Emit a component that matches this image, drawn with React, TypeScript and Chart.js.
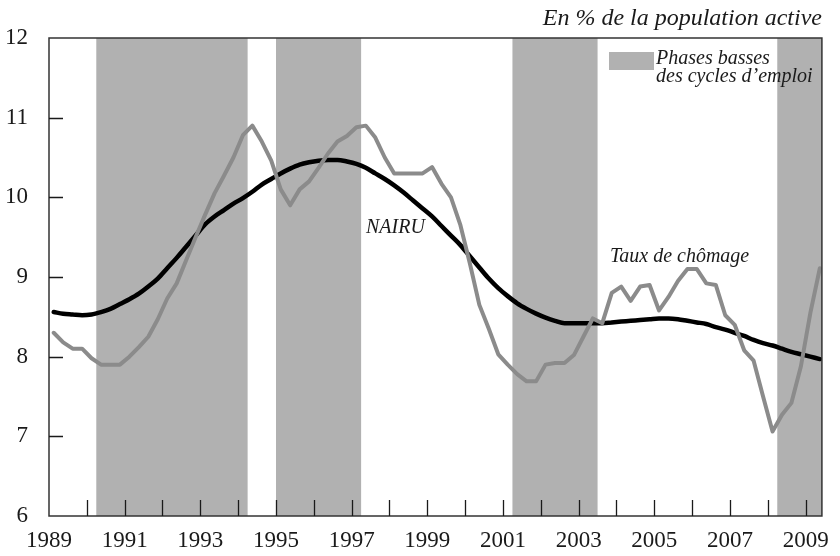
import React, { useEffect, useRef } from "react";
import { Chart, registerables } from "chart.js";

Chart.register(...registerables);

// Quarterly data, first point = 1989 Q1 (plotted at quarter mid-point)
const firstQuarterMid = 1989.125;

const unemployment = [
  8.3, 8.18, 8.1, 8.1,
  7.98, 7.9, 7.9, 7.9,
  8.0, 8.12, 8.25, 8.47,
  8.73, 8.92, 9.21, 9.5,
  9.78, 10.05, 10.27, 10.5,
  10.78, 10.9, 10.7, 10.46,
  10.1, 9.9, 10.1, 10.2,
  10.37, 10.55, 10.7, 10.77,
  10.88, 10.9, 10.75, 10.5,
  10.3, 10.3, 10.3, 10.3,
  10.38, 10.17, 10.0, 9.65,
  9.17, 8.65, 8.35, 8.03,
  7.9, 7.78, 7.69, 7.69,
  7.9, 7.92, 7.92, 8.02,
  8.25, 8.48, 8.42, 8.8,
  8.88, 8.7, 8.88, 8.9,
  8.58, 8.75, 8.95, 9.1,
  9.1, 8.92, 8.9, 8.52,
  8.4, 8.08, 7.95, 7.5,
  7.06, 7.27, 7.42, 7.88,
  8.55, 9.11,
];

const nairu = [
  8.56, 8.54, 8.53, 8.52,
  8.53, 8.56, 8.6, 8.66,
  8.72, 8.79, 8.88, 8.98,
  9.11, 9.24, 9.38, 9.52,
  9.66, 9.76, 9.84, 9.92,
  9.99, 10.07, 10.16, 10.23,
  10.3, 10.36, 10.41, 10.44,
  10.46, 10.47, 10.47, 10.45,
  10.42, 10.37, 10.3, 10.23,
  10.15, 10.06, 9.96, 9.86,
  9.76, 9.64, 9.52, 9.4,
  9.26, 9.12, 8.98, 8.86,
  8.76, 8.67, 8.6, 8.54,
  8.49, 8.45, 8.42, 8.42,
  8.42, 8.42, 8.42, 8.43,
  8.44, 8.45, 8.46, 8.47,
  8.48, 8.48, 8.47, 8.45,
  8.43, 8.41, 8.37, 8.34,
  8.3, 8.26, 8.21, 8.17,
  8.14, 8.1, 8.06, 8.03,
  8.0, 7.97,
];

// Low phases of employment cycles [start, end]
const lowPhaseStarts = [1990.25, 1995.0, 2001.25, 2008.25];
const lowPhaseEnds = [1994.25, 1997.25, 2003.5, 2009.43];

const xLabelYears = [1989, 1991, 1993, 1995, 1997, 1999, 2001, 2003, 2005, 2007, 2009];
const xMinorTicks = [
  1990, 1991, 1992, 1993, 1994, 1995, 1996, 1997, 1998, 1999,
  2000, 2001, 2002, 2003, 2004, 2005, 2006, 2007, 2008, 2009,
];
const yTickValues = [6, 7, 8, 9, 10, 11, 12];
const yInnerTicks = [7, 8, 9, 10, 11];

const X_MIN = 1989;
const X_MAX = 2009.43;

const SHADE = "#b1b1b1";
const UNEMP_COLOR = "#8b8b8b";
const INK = "#1a1a1a";
const SERIF = "'Liberation Serif', 'Times New Roman', serif";

const decorPlugin = {
  id: "decor",
  beforeDatasetsDraw(chart: any) {
    const { ctx, chartArea, scales } = chart;
    const xs = scales.x;
    ctx.save();
    ctx.fillStyle = SHADE;
    for (let i = 0; i < lowPhaseStarts.length; i++) {
      const x0 = xs.getPixelForValue(lowPhaseStarts[i]);
      const x1 = Math.min(xs.getPixelForValue(lowPhaseEnds[i]), chartArea.right);
      ctx.fillRect(x0, chartArea.top, x1 - x0, chartArea.bottom - chartArea.top);
    }
    ctx.restore();
  },
  afterDatasetsDraw(chart: any) {
    const { ctx, chartArea, scales } = chart;
    const xs = scales.x;
    const ys = scales.y;
    ctx.save();
    // frame
    ctx.strokeStyle = "#333333";
    ctx.lineWidth = 1.5;
    ctx.strokeRect(chartArea.left, chartArea.top, chartArea.right - chartArea.left, chartArea.bottom - chartArea.top);
    // inward ticks
    ctx.strokeStyle = INK;
    ctx.lineWidth = 1.3;
    ctx.beginPath();
    for (const yr of xMinorTicks) {
      const px = Math.round(xs.getPixelForValue(yr)) + 0.5;
      ctx.moveTo(px, chartArea.bottom);
      ctx.lineTo(px, chartArea.bottom - 16);
    }
    for (const v of yInnerTicks) {
      const py = Math.round(ys.getPixelForValue(v)) + 0.5;
      ctx.moveTo(chartArea.left, py);
      ctx.lineTo(chartArea.left + 14, py);
    }
    ctx.stroke();

    // annotations
    ctx.fillStyle = INK;
    ctx.textBaseline = "alphabetic";
    ctx.font = `italic 20px ${SERIF}`;
    ctx.textAlign = "left";
    ctx.fillText("NAIRU", 366, 233);
    ctx.fillText("Taux de chômage", 610, 262);

    // legend
    ctx.fillStyle = SHADE;
    ctx.fillRect(609, 52, 45, 18);
    ctx.fillStyle = INK;
    ctx.fillText("Phases basses", 656, 64);
    ctx.fillText("des cycles d’emploi", 656, 82);

    // unit title
    ctx.font = `italic 24px ${SERIF}`;
    ctx.textAlign = "right";
    ctx.fillText("En % de la population active", 822, 25);
    ctx.restore();
  },
};

export default function App() {
  const canvasRef = useRef<HTMLCanvasElement | null>(null);

  useEffect(() => {
    document.body.style.margin = "0";
    const canvas = canvasRef.current;
    if (!canvas) return;

    const unempPoints = unemployment.map((v, i) => ({ x: firstQuarterMid + i * 0.25, y: v }));
    const nairuPoints = nairu.map((v, i) => ({ x: firstQuarterMid + i * 0.25, y: v }));

    const chart = new Chart(canvas, {
      type: "line",
      data: {
        datasets: [
          {
            label: "Taux de chômage",
            data: unempPoints,
            borderColor: UNEMP_COLOR,
            borderWidth: 4,
            pointRadius: 0,
            tension: 0,
            borderJoinStyle: "round",
            borderCapStyle: "round",
          },
          {
            label: "NAIRU",
            data: nairuPoints,
            borderColor: "#000000",
            borderWidth: 4.5,
            pointRadius: 0,
            tension: 0.4,
            cubicInterpolationMode: "monotone",
            borderCapStyle: "round",
          },
        ],
      },
      options: {
        responsive: false,
        animation: false,
        layout: { padding: { top: 38, right: 17, left: 0, bottom: 0 } },
        plugins: {
          legend: { display: false },
          tooltip: { enabled: false },
          title: { display: false },
        },
        scales: {
          x: {
            type: "linear",
            min: X_MIN,
            max: X_MAX,
            grid: { display: false, drawTicks: false },
            border: { display: false },
            afterBuildTicks(scale: any) {
              scale.ticks = xLabelYears.map((v) => ({ value: v }));
            },
            afterFit(scale: any) {
              scale.height = 40;
            },
            ticks: {
              autoSkip: false,
              maxRotation: 0,
              padding: 11,
              color: INK,
              font: { family: SERIF, size: 23 },
              callback: (v: any) => String(v),
            },
          },
          y: {
            type: "linear",
            min: 6,
            max: 12,
            grid: { display: false, drawTicks: false },
            border: { display: false },
            afterBuildTicks(scale: any) {
              scale.ticks = yTickValues.map((v) => ({ value: v }));
            },
            afterFit(scale: any) {
              scale.width = 49;
            },
            ticks: {
              padding: 21,
              color: INK,
              font: { family: SERIF, size: 23 },
              callback: (v: any) => String(v),
            },
          },
        },
      },
      plugins: [decorPlugin],
    } as any);

    return () => {
      chart.destroy();
    };
  }, []);

  return (
    <div style={{ width: 840, height: 556, background: "#ffffff" }}>
      <canvas ref={canvasRef} width={840} height={556} style={{ display: "block" }} />
    </div>
  );
}
